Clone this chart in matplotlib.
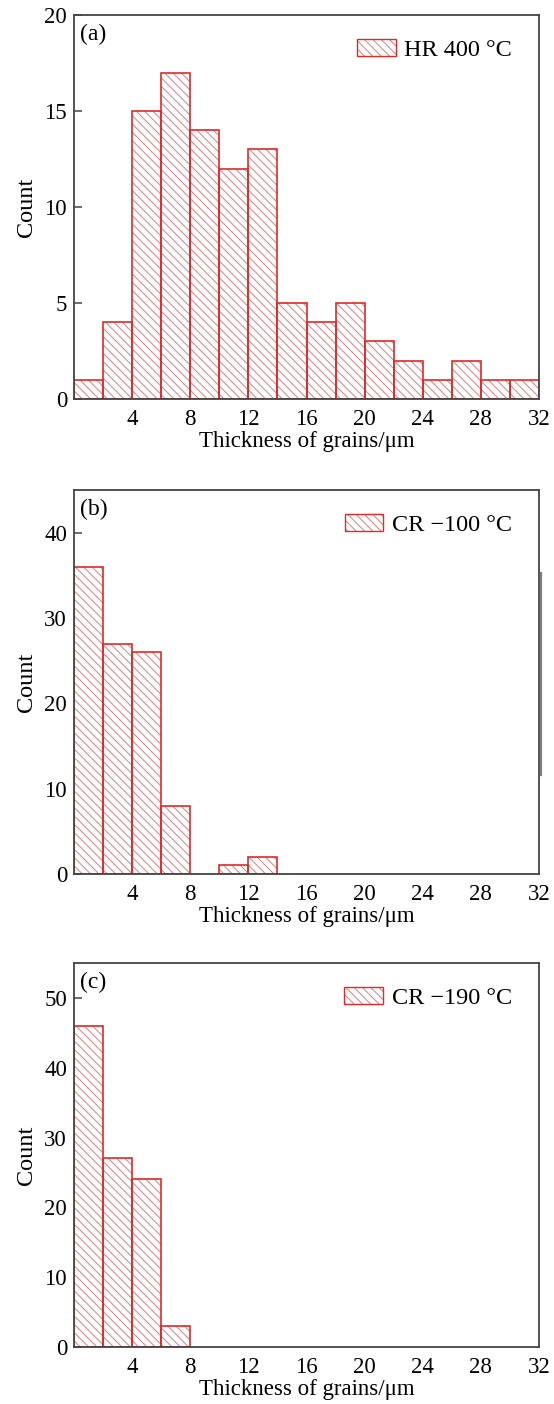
"""
Grain thickness histograms for HR 400 C, CR -100 C and CR -190 C
"""

import numpy as np
import matplotlib
matplotlib.use('Agg')
import matplotlib.pyplot as plt
from matplotlib.patches import Patch
from matplotlib.lines import Line2D

# bin edges shared by all panels (2 um bins from 0 to 32 um)
bin_left = [0, 2, 4, 6, 8, 10, 12, 14, 16, 18, 20, 22, 24, 26, 28, 30]

counts_hr400 = [1, 4, 15, 17, 14, 12, 13, 5, 4, 5, 3, 2, 1, 2, 1, 1]
counts_cr100 = [36, 27, 26, 8, 0, 1, 2, 0, 0, 0, 0, 0, 0, 0, 0, 0]
counts_cr190 = [46, 27, 24, 3, 0, 0, 0, 0, 0, 0, 0, 0, 0, 0, 0, 0]

panel_labels = ['(a)', '(b)', '(c)']
legend_labels = ['HR 400 \u00b0C', 'CR \u2212100 \u00b0C', 'CR \u2212190 \u00b0C']
y_limits = [20, 45, 55]
y_ticks = [[0, 5, 10, 15, 20], [0, 10, 20, 30, 40], [0, 10, 20, 30, 40, 50]]
x_ticks = [4, 8, 12, 16, 20, 24, 28, 32]

plt.rcParams['font.family'] = ['Liberation Serif', 'DejaVu Serif']
plt.rcParams['hatch.linewidth'] = 0.7

EDGE = '#e02a2a'
HATCH = '#d98080'
SPINE = '#444444'
FS = 16.5

fig = plt.figure(figsize=(5.54, 14.04), dpi=100)

left, width, height = 0.1336, 0.8394, 0.2735
bottoms = [0.7158, 0.3775, 0.0406]

for i, counts in enumerate([counts_hr400, counts_cr100, counts_cr190]):
    ax = fig.add_axes([left, bottoms[i], width, height])

    x = np.array(bin_left, dtype=float)
    c = np.array(counts, dtype=float)
    keep = c > 0

    # hatch layer (light red) then the outline layer (stronger red)
    ax.bar(x[keep], c[keep], width=2, align='edge', facecolor='white',
           edgecolor=HATCH, linewidth=0, hatch='\\\\\\\\', zorder=2)
    ax.bar(x[keep], c[keep], width=2, align='edge', facecolor='none',
           edgecolor=EDGE, linewidth=1.2, zorder=3)

    ax.set_xlim(0, 32)
    ax.set_ylim(0, y_limits[i])
    ax.set_xticks(x_ticks)
    ax.set_yticks(y_ticks[i])
    ax.tick_params(axis='x', length=0, labelsize=FS, pad=7)
    ax.tick_params(axis='y', direction='in', length=6, width=1.1,
                   color=SPINE, labelsize=FS, pad=5)
    for s in ax.spines.values():
        s.set_color(SPINE)
        s.set_linewidth(1.3)
        s.set_zorder(5)

    ax.set_xlabel('Thickness of grains/\u03bcm', fontsize=FS, labelpad=1)
    ax.set_ylabel('Count', fontsize=17.5, labelpad=5)

    ax.text(0.013, 0.978, panel_labels[i], transform=ax.transAxes,
            ha='left', va='top', fontsize=17)

    h_hatch = Patch(facecolor='white', edgecolor=HATCH, linewidth=0, hatch='\\\\\\\\')
    h_edge = Patch(facecolor='none', edgecolor=EDGE, linewidth=1.0)
    ax.legend([(h_hatch, h_edge)], [legend_labels[i]], loc='upper right',
              frameon=False, fontsize=17.5, handlelength=1.6, handleheight=0.7,
              handletextpad=0.35, borderaxespad=0.6, bbox_to_anchor=(0.994, 1.0))

# stray vertical rule to the right of panel (b)
fig.add_artist(Line2D([541 / 554, 541 / 554], [1 - 573 / 1404, 1 - 775 / 1404],
                      transform=fig.transFigure, color='#808080', linewidth=1.6))

plt.savefig('out.png', dpi=100)
plt.close()
